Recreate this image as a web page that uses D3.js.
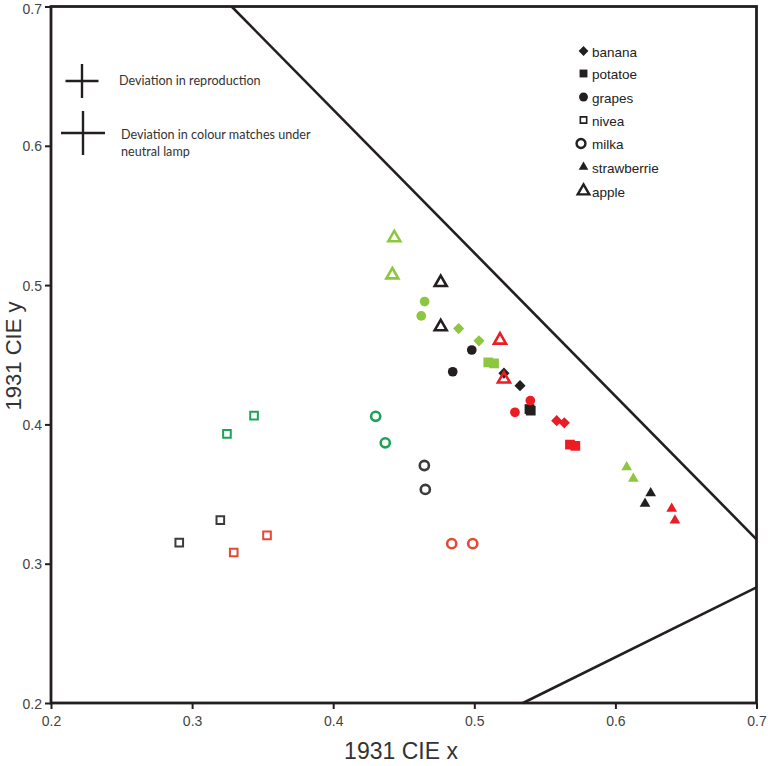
<!DOCTYPE html>
<html><head><meta charset="utf-8">
<script src="https://cdn.jsdelivr.net/npm/d3@7"></script>
<style>body{margin:0;background:#fff}svg{display:block}</style>
</head><body><svg id="c" width="768" height="766"></svg>
<script>
// ---------- data ----------
const xTicks = [0.2, 0.3, 0.4, 0.5, 0.6, 0.7];
const yTicks = [0.2, 0.3, 0.4, 0.5, 0.6, 0.7];
const fruits = ["banana", "potatoe", "grapes", "nivea", "milka", "strawberrie", "apple"];
// [x, y, lamp]
const banana = [[0.4889,0.4688,"green"],[0.5033,0.4600,"green"],[0.5210,0.4368,"black"],[0.5324,0.4278,"black"],[0.5584,0.4027,"red"],[0.5638,0.4011,"red"]];
const potatoe = [[0.5099,0.4445,"green"],[0.5140,0.4438,"green"],[0.5391,0.4110,"black"],[0.5400,0.4099,"black"],[0.5678,0.3855,"red"],[0.5716,0.3846,"red"]];
const grapes = [[0.4648,0.4882,"green"],[0.4624,0.4779,"green"],[0.4982,0.4534,"black"],[0.4847,0.4378,"black"],[0.5397,0.4171,"red"],[0.5288,0.4087,"red"]];
const nivea = [[0.3439,0.4063,"green"],[0.3247,0.3932,"green"],[0.3200,0.3313,"black"],[0.2909,0.3151,"black"],[0.3531,0.3203,"red"],[0.3295,0.3080,"red"]];
const milka = [[0.4301,0.4058,"green"],[0.4369,0.3868,"green"],[0.4646,0.3705,"black"],[0.4653,0.3533,"black"],[0.4840,0.3144,"red"],[0.4989,0.3144,"red"]];
const strawberrie = [[0.6080,0.3693,"green"],[0.6127,0.3610,"green"],[0.6250,0.3506,"black"],[0.6210,0.3431,"black"],[0.6399,0.3395,"red"],[0.6422,0.3311,"red"]];
const apple = [[0.4433,0.5340,"green"],[0.4419,0.5073,"green"],[0.4762,0.5018,"black"],[0.4762,0.4701,"black"],[0.5182,0.4605,"red"],[0.5210,0.4326,"red"]];
// boundary lines [x, y]
const upperLine = [[0.328,0.7],[0.7,0.3175]];
const lowerLine = [[0.5345,0.2],[0.7,0.283]];
const legendNotes = ["Deviation in reproduction", "Deviation in colour matches under", "neutral lamp"];

// ---------- styles ----------
const lampFill = {green:"#8dc63f", black:"#231f20", red:"#ed1c24"};
const lampDark = {green:"#1ea356", black:"#3b3b3b", red:"#e24a33"};
const style = {
  banana:     {type:"diamond", size:62, open:false},
  potatoe:    {type:"square",  size:95, open:false},
  grapes:     {type:"circle",  size:74, open:false},
  nivea:      {type:"square",  size:58, open:true, sw:2},
  milka:      {type:"circle",  size:66, open:true, sw:2.6},
  strawberrie:{type:"triangle",size:50, open:false},
  apple:      {type:"triangle",size:62, open:true, sw:2.6}
};
const dataByFruit = {banana, potatoe, grapes, nivea, milka, strawberrie, apple};

const svg = d3.select("#c");
const x = d3.scaleLinear().domain([0.2, 0.7]).range([51, 756.5]);
const y = d3.scaleLinear().domain([0.2, 0.7]).range([703, 6.5]);
const ink = "#231f20";

function symPath(st, size){
  const t = st.type === "diamond" || st.type === "square" ? d3.symbolSquare
          : st.type === "circle" ? d3.symbolCircle : d3.symbolTriangle;
  return d3.symbol().type(t).size(size)();
}

// boundary lines
const line = d3.line().x(d => x(d[0])).y(d => y(d[1]));
[upperLine, lowerLine].forEach(l => svg.append("path").attr("d", line(l))
  .attr("fill","none").attr("stroke", ink).attr("stroke-width", 2.6));

// axes
const gx = svg.append("g").attr("transform", `translate(0,${y(0.2)})`)
  .call(d3.axisBottom(x).tickValues(xTicks).tickFormat(d3.format(".1f")).tickSize(6).tickPadding(7));
const gy = svg.append("g").attr("transform", `translate(${x(0.2)},0)`)
  .call(d3.axisLeft(y).tickValues(yTicks).tickFormat(d3.format(".1f")).tickSize(6).tickPadding(3));
[gx, gy].forEach(g => {
  g.select(".domain").remove();
  g.selectAll(".tick line").attr("stroke", ink).attr("stroke-width", 2);
  g.selectAll(".tick text").attr("fill", "#444").attr("font-family", "Liberation Sans, Arial, sans-serif").attr("font-size", 14);
});
gy.selectAll(".tick text").attr("dy", d => d === 0.7 ? "0.5em" : "0.36em");

// frame
svg.append("rect").attr("x", x(0.2)).attr("y", y(0.7))
  .attr("width", x(0.7) - x(0.2)).attr("height", y(0.2) - y(0.7))
  .attr("fill", "none").attr("stroke", ink).attr("stroke-width", 2.8);

// axis titles
svg.append("text").attr("x", 401).attr("y", 759).attr("text-anchor","middle")
  .attr("font-family","Liberation Sans, Arial, sans-serif").attr("font-size", 23).attr("fill","#333").text("1931 CIE x");
svg.append("text").attr("transform","translate(21,356) rotate(-90)").attr("text-anchor","middle")
  .attr("font-family","Liberation Sans, Arial, sans-serif").attr("font-size", 22).attr("fill","#333").text("1931 CIE y");

// points
fruits.forEach(f => {
  const st = style[f];
  svg.append("g").selectAll("path").data(dataByFruit[f]).join("path")
    .attr("d", symPath(st, st.size))
    .attr("transform", d => `translate(${x(d[0])},${y(d[1])})` + (st.type === "diamond" ? " rotate(45)" : ""))
    .attr("fill", d => st.open ? "none" : lampFill[d[2]])
    .attr("stroke", d => st.open ? ((f === "nivea" || f === "milka") ? lampDark[d[2]] : lampFill[d[2]]) : "none")
    .attr("stroke-width", st.sw || 0);
});

// fruit legend
const legY = [52, 74.5, 98, 121, 144.5, 168, 192];
const legSize = {banana:48, potatoe:62, grapes:62, nivea:40, milka:62, strawberrie:40, apple:58};
fruits.forEach((f, i) => {
  const st = style[f];
  svg.append("path").attr("d", symPath(st, legSize[f]))
    .attr("transform", `translate(${f === "milka" ? 581 : 583.5},${legY[i] - 1})` + (st.type === "diamond" ? " rotate(45)" : ""))
    .attr("fill", st.open ? "none" : ink).attr("stroke", st.open ? ink : "none")
    .attr("stroke-width", st.open ? (f === "nivea" ? 1.6 : 2.4) : 0);
  svg.append("text").attr("x", 592).attr("y", legY[i] + 4.5)
    .attr("font-family","Liberation Sans, Arial, sans-serif").attr("font-size", 13.5).attr("fill","#222").text(f);
});

// deviation crosses legend
const crosses = [{cx:82, cy:81, hw:16.5, hh:17}, {cx:83, cy:133, hw:22, hh:22}];
crosses.forEach(c => {
  svg.append("line").attr("x1", c.cx - c.hw).attr("x2", c.cx + c.hw).attr("y1", c.cy).attr("y2", c.cy)
    .attr("stroke", ink).attr("stroke-width", 2.4);
  svg.append("line").attr("x1", c.cx).attr("x2", c.cx).attr("y1", c.cy - c.hh).attr("y2", c.cy + c.hh)
    .attr("stroke", ink).attr("stroke-width", 2.4);
});
const noteFont = "Lato, Open Sans, sans-serif";
svg.append("text").attr("x", 119).attr("y", 85).attr("font-family", noteFont).attr("font-size", 12.6).attr("fill","#333").text(legendNotes[0]);
svg.append("text").attr("x", 121).attr("y", 139).attr("font-family", noteFont).attr("font-size", 12.6).attr("fill","#333").text(legendNotes[1]);
svg.append("text").attr("x", 121).attr("y", 156).attr("font-family", noteFont).attr("font-size", 12.6).attr("fill","#333").text(legendNotes[2]);
</script></body></html>
